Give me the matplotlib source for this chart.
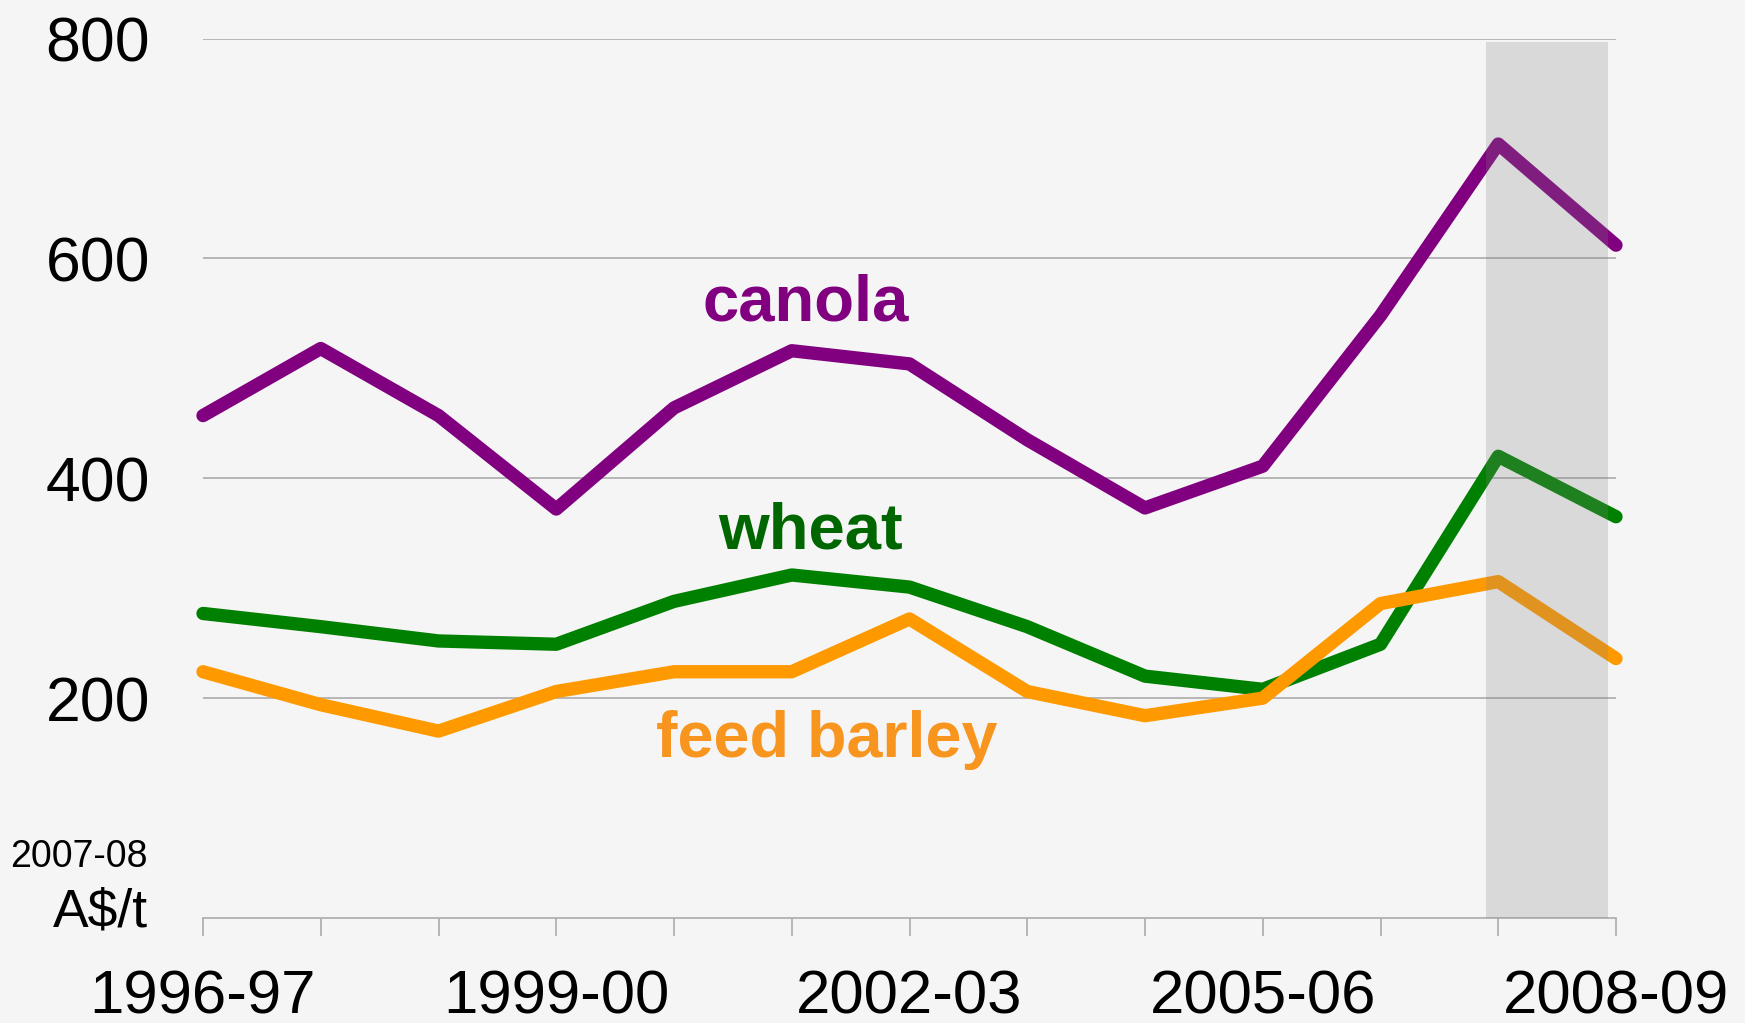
import matplotlib

matplotlib.use("Agg")

import matplotlib.pyplot as plt

# Data (2007-08 A$/t)
years = ["1996-97", "1997-98", "1998-99", "1999-00", "2000-01", "2001-02",
         "2002-03", "2003-04", "2004-05", "2005-06", "2006-07", "2007-08",
         "2008-09"]
canola = [457, 518, 457, 372, 464, 516, 504, 435, 373, 411, 548, 704, 612]
wheat = [277, 265, 252, 249, 288, 312, 301, 265, 220, 208, 249, 420, 365]
feed_barley = [224, 194, 170, 206, 224, 224, 272, 206, 184, 200, 286, 306, 236]
label_every = 3
y_ticks = [200, 400, 600, 800]

plt.rcParams["font.family"] = ["Liberation Sans", "DejaVu Sans"]

bg = "#f5f5f5"
fig = plt.figure(figsize=(17.45, 10.23), dpi=100, facecolor=bg)
ax = fig.add_axes([203 / 1745, 1 - 918 / 1023, (1616 - 203) / 1745, (918 - 38.5) / 1023])
ax.set_facecolor(bg)

x = list(range(len(years)))

# Gridlines
for v in y_ticks:
    ax.axhline(v, color="#ababab", lw=1.2, zorder=1)

# Lines
lw = 9.6
ax.plot(x, canola, color="#800080", lw=lw, solid_capstyle="round", clip_on=False, zorder=3)
ax.plot(x, wheat, color="#008000", lw=lw, solid_capstyle="round", clip_on=False, zorder=3)
ax.plot(x, feed_barley, color="#ff9900", lw=lw, solid_capstyle="round", clip_on=False, zorder=3)

# Shaded forecast band, drawn over the lines
ax.axvspan(10.9, 11.93, ymin=0, ymax=797 / 800, color="#808080", alpha=0.24, lw=0, zorder=4)

# Series labels
ax.text(5.12, 559, "canola", color="#800080", fontsize=47, fontweight="bold", ha="center", va="center")
ax.text(5.16, 352, "wheat", color="#006600", fontsize=47, fontweight="bold", ha="center", va="center")
ax.text(5.3, 162, "feed barley", color="#f7951f", fontsize=46.5, fontweight="bold", ha="center", va="center")

ax.set_xlim(0, 12)
ax.set_ylim(0, 800)

for s in ["left", "right", "top"]:
    ax.spines[s].set_visible(False)
ax.spines["bottom"].set_color("#ababab")
ax.spines["bottom"].set_linewidth(1.2)

ax.set_xticks(x)
ax.set_xticklabels([y if i % label_every == 0 else "" for i, y in enumerate(years)])
ax.tick_params(axis="x", direction="out", length=13, width=1.2, color="#ababab",
               labelsize=44.5, pad=24)
ax.set_yticks(y_ticks)
ax.set_yticklabels([str(v) for v in y_ticks])
ax.tick_params(axis="y", length=0, labelsize=45, pad=38)

# Unit label
fig.text(148 / 1745, 1 - 857 / 1023, "2007-08", fontsize=27, ha="right", va="center")
fig.text(148 / 1745, 1 - 913 / 1023, "A$/t", fontsize=38.5, ha="right", va="center")

fig.savefig("out.png", dpi=100, facecolor=fig.get_facecolor())
